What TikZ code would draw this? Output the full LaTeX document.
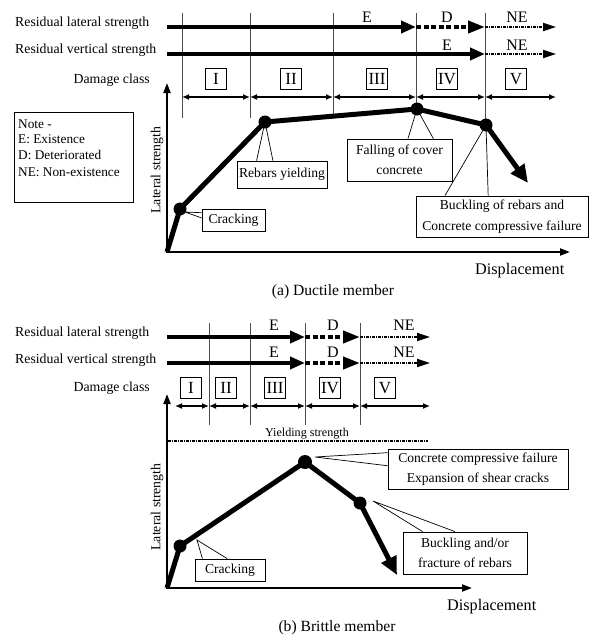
\documentclass[tikz,border=0pt]{standalone}
\usepackage{fontspec}
\setmainfont{Liberation Serif}
\usetikzlibrary{arrows.meta,calc}
\newcommand\lblfont{\fontsize{13.8}{16}\selectfont}
\newcommand\calfont{\fontsize{13.6}{20.5}\selectfont}
\newcommand\statfont{\fontsize{16}{18}\selectfont}
\newcommand\romfont{\fontsize{17}{18}\selectfont}
\newcommand\dispfont{\fontsize{16.2}{18}\selectfont}
\newcommand\capfont{\fontsize{15.6}{18}\selectfont}
\newcommand\yldfont{\fontsize{12.1}{14}\selectfont}
\newcommand\notefont{\fontsize{13.3}{16}\selectfont}
\begin{document}
\begin{tikzpicture}[x=1pt,y=-1pt,
  lbl/.style={font=\lblfont, inner sep=0pt},
  stat/.style={font=\statfont, inner sep=0pt, anchor=base},
  rom/.style={draw, line width=0.8pt, font=\romfont, minimum width=21pt, minimum height=21pt, inner sep=1pt},
  vline/.style={line width=0.8pt, black!70},
  solidarr/.style={line width=4pt, -{Triangle[length=15pt,width=12pt]}},
  darr/.style={line width=4pt, dash pattern=on 5pt off 2.5pt, -{Triangle[length=17pt,width=12pt]}},
  nearr/.style={line width=1.8pt, dash pattern=on 3pt off 1pt on 1pt off 1pt, -{Triangle[length=13pt,width=8pt]}},
  dbl/.style={line width=1.3pt, {Latex[length=7pt,width=6pt]}-{Latex[length=7pt,width=6pt]}},
  axis/.style={line width=2pt, line join=miter, {Triangle[length=10pt,width=7pt]}-{Triangle[length=10pt,width=7pt]}},
  curve/.style={line width=5pt, line join=round, -{Triangle[length=18pt,width=16pt]}},
  dot/.style={fill=black},
  ptr/.style={line width=0.7pt},
  callbox/.style={draw, line width=0.8pt, fill=white, inner sep=0pt, align=center, font=\calfont},
  yld/.style={line width=2pt, dash pattern=on 3pt off 1pt on 1pt off 1pt},
]
\useasboundingbox (0,0) rectangle (590,637);

%================ (a) Ductile member ================
\node[lbl, anchor=base west] (aRL) at (15,26) {Residual lateral strength};
\node[lbl, anchor=base west] (aRV) at (15,53) {Residual vertical strength};
\node[lbl, anchor=base east] (aDC) at (150,83) {Damage class};

% vertical class separators
\draw[vline] (182,13) -- (182,118);
\draw[vline] (250,13) -- (250,118);
\draw[vline] (333,13) -- (333,115);
\draw[vline] (416,13) -- (416,108);
\draw[vline] (485,13) -- (485,123);

% status arrows
\coordinate (aL0) at (167,27); \coordinate (aL1) at (416,27);
\coordinate (aL2) at (485,27); \coordinate (aL3) at (556,27);
\coordinate (aV0) at (167,54); \coordinate (aV1) at (485,54);
\coordinate (aV2) at (556,54);
\draw[solidarr] (aL0) -- (aL1);
\draw[darr] (aL1) -- (aL2);
\draw[nearr] (aL2) -- (aL3);
\draw[solidarr] (aV0) -- (aV1);
\draw[nearr] (aV1) -- (aV2);
\node[stat] (aE1) at (367,22) {E};
\node[stat] (aD1) at (447,22) {D};
\node[stat] (aN1) at (517,22) {NE};
\node[stat] (aE2) at (447,50) {E};
\node[stat] (aN2) at (517,50) {NE};

% damage classes
\node[rom] (aI) at (216,79) {I};
\node[rom] (aII) at (291,79) {II};
\node[rom] (aIII) at (377,79) {III};
\node[rom] (aIV) at (447,79) {IV};
\node[rom] (aV) at (516,79) {V};
\coordinate (aD0) at (182,97); \coordinate (aDa) at (250,97);
\coordinate (aDb) at (333,97); \coordinate (aDc) at (416,97);
\coordinate (aDd) at (485,97); \coordinate (aDe) at (556,97);
\draw[dbl] (aD0) -- (aDa);
\draw[dbl] (aDa) -- (aDb);
\draw[dbl] (aDb) -- (aDc);
\draw[dbl] (aDc) -- (aDd);
\draw[dbl] (aDd) -- (aDe);

% note box
\node[draw, line width=0.8pt, minimum width=119pt, minimum height=90pt, inner sep=0pt] (note) at (73.5,157) {};
\node[font=\notefont, inner sep=0pt, anchor=base west] (n1) at (18,128) {Note -};
\node[font=\notefont, inner sep=0pt, anchor=base west] (n2) at (18,143) {E: Existence};
\node[font=\notefont, inner sep=0pt, anchor=base west] (n3) at (18,159) {D: Deteriorated};
\node[font=\notefont, inner sep=0pt, anchor=base west] (n4) at (18,176) {NE: Non-existence};

% axes
\coordinate (aO) at (167,252); \coordinate (aYt) at (167,83); \coordinate (aXt) at (570,252);
\draw[axis] (aYt) -- (aO) -- (aXt);
\node[lbl, rotate=90] (aLS) at (157,170) {Lateral strength};
\node[font=\dispfont, inner sep=0pt, anchor=base west] (aDisp) at (475,274) {Displacement};
\node[font=\capfont, inner sep=0pt, anchor=base] (aCap) at (333,295) {(a) Ductile member};

% curve
\coordinate (aC) at (180,209); \coordinate (aY) at (265,122);
\coordinate (aP) at (417,109); \coordinate (aB) at (486,125);
\coordinate (aEnd) at (528,183);
\draw[curve] (aO) -- (aC) -- (aY) -- (aP) -- (aB) -- (aEnd);
\fill[dot] (aC) circle (6.5);
\fill[dot] (aY) circle (6.5);
\fill[dot] (aP) circle (6.5);
\fill[dot] (aB) circle (6.5);

% callouts
\node[callbox, minimum width=63pt, minimum height=22pt] (aCrk) at (233.5,220) {Cracking};
\node[callbox, minimum width=90pt, minimum height=27pt] (aReb) at (282,174.5) {Rebars yielding};
\node[callbox, minimum width=105pt, minimum height=42pt] (aFal) at (399.5,160) {Falling of cover\\concrete};
\node[callbox, minimum width=172pt, minimum height=41pt] (aBuc) at (502,216.5) {Buckling of rebars and\\Concrete compressive failure};
\coordinate (aCp) at (185,212);
\draw[ptr] ($(aCrk.north west)!0.18!(aCrk.south west)$) -- (aCp) -- ($(aCrk.north west)!0.41!(aCrk.south west)$);
\draw[ptr] ($(aReb.north west)!0.22!(aReb.north east)$) -- (aY) -- ($(aReb.north west)!0.4!(aReb.north east)$);
\draw[ptr] ($(aFal.north west)!0.58!(aFal.north east)$) -- (aP) -- ($(aFal.north west)!0.82!(aFal.north east)$);
\draw[ptr] ($(aBuc.north west)!0.17!(aBuc.north east)$) -- (aB) -- ($(aBuc.north west)!0.42!(aBuc.north east)$);

%================ (b) Brittle member ================
\node[lbl, anchor=base west] (bRL) at (15,336) {Residual lateral strength};
\node[lbl, anchor=base west] (bRV) at (15,363) {Residual vertical strength};
\node[lbl, anchor=base east] (bDC) at (150,391) {Damage class};

\draw[vline] (209,323) -- (209,425);
\draw[vline] (250,323) -- (250,425);
\draw[vline] (305,323) -- (305,425);
\draw[vline] (360,323) -- (360,425);

\coordinate (bL0) at (167,337); \coordinate (bL1) at (305,337);
\coordinate (bL2) at (360,337); \coordinate (bL3) at (430,337);
\coordinate (bV0) at (167,363); \coordinate (bV1) at (305,363);
\coordinate (bV2) at (360,363); \coordinate (bV3) at (430,363);
\draw[solidarr] (bL0) -- (bL1);
\draw[darr] (bL1) -- (bL2);
\draw[nearr] (bL2) -- (bL3);
\draw[solidarr] (bV0) -- (bV1);
\draw[darr] (bV1) -- (bV2);
\draw[nearr] (bV2) -- (bV3);
\node[stat] (bE1) at (274,330) {E};
\node[stat] (bD1) at (333,330) {D};
\node[stat] (bN1) at (404,330) {NE};
\node[stat] (bE2) at (274,357) {E};
\node[stat] (bD2) at (333,357) {D};
\node[stat] (bN2) at (404,357) {NE};

\node[rom] (bI) at (191,388) {I};
\node[rom] (bII) at (226,388) {II};
\node[rom] (bIII) at (275,388) {III};
\node[rom] (bIV) at (330,388) {IV};
\node[rom] (bV) at (385,388) {V};
\coordinate (bD0) at (175,406); \coordinate (bDa) at (209,406);
\coordinate (bDb) at (250,406); \coordinate (bDc) at (305,406);
\coordinate (bDd) at (360,406); \coordinate (bDe) at (430,406);
\draw[dbl] (bD0) -- (bDa);
\draw[dbl] (bDa) -- (bDb);
\draw[dbl] (bDb) -- (bDc);
\draw[dbl] (bDc) -- (bDd);
\draw[dbl] (bDd) -- (bDe);

% yielding strength
\coordinate (bYs) at (168,441); \coordinate (bYe) at (428,441);
\draw[yld] (bYs) -- (bYe);
\node[font=\yldfont, inner sep=0pt, anchor=base] (bYl) at (307,436) {Yielding strength};

% axes
\coordinate (bO) at (167,588); \coordinate (bYt) at (167,394); \coordinate (bXt) at (472,588);
\draw[axis] (bYt) -- (bO) -- (bXt);
\node[lbl, rotate=90] (bLS) at (157,507) {Lateral strength};
\node[font=\dispfont, inner sep=0pt, anchor=base west] (bDisp) at (447,610) {Displacement};
\node[font=\capfont, inner sep=0pt, anchor=base] (bCap) at (337,631) {(b) Brittle member};

% curve
\coordinate (bC) at (180,546); \coordinate (bP) at (305,462);
\coordinate (bQ) at (360,503); \coordinate (bEnd) at (397,575);
\draw[curve] (bO) -- (bC) -- (bP) -- (bQ) -- (bEnd);
\fill[dot] (bC) circle (6.5);
\fill[dot] (bP) circle (7);
\fill[dot] (bQ) circle (6.5);

% callouts
\node[callbox, minimum width=70pt, minimum height=22pt] (bCrk) at (230,570) {Cracking};
\node[callbox, minimum width=180pt, minimum height=40pt] (bCon) at (478,469) {Concrete compressive failure\\Expansion of shear cracks};
\node[callbox, minimum width=124pt, minimum height=42pt] (bBuc) at (465,553) {Buckling and/or\\fracture of rebars};
\coordinate (bCp) at (197,540);
\coordinate (bPp) at (315,457);
\coordinate (bQp) at (373,501);
\draw[ptr] ($(bCrk.north west)!0.11!(bCrk.north east)$) -- (bCp) -- ($(bCrk.north west)!0.46!(bCrk.north east)$);
\draw[ptr] ($(bCon.north west)!0.1!(bCon.south west)$) -- (bPp) -- ($(bCon.north west)!0.42!(bCon.south west)$);
\draw[ptr] ($(bBuc.north west)!0.16!(bBuc.north east)$) -- (bQp) -- ($(bBuc.north west)!0.42!(bBuc.north east)$);
\end{tikzpicture}
\end{document}
